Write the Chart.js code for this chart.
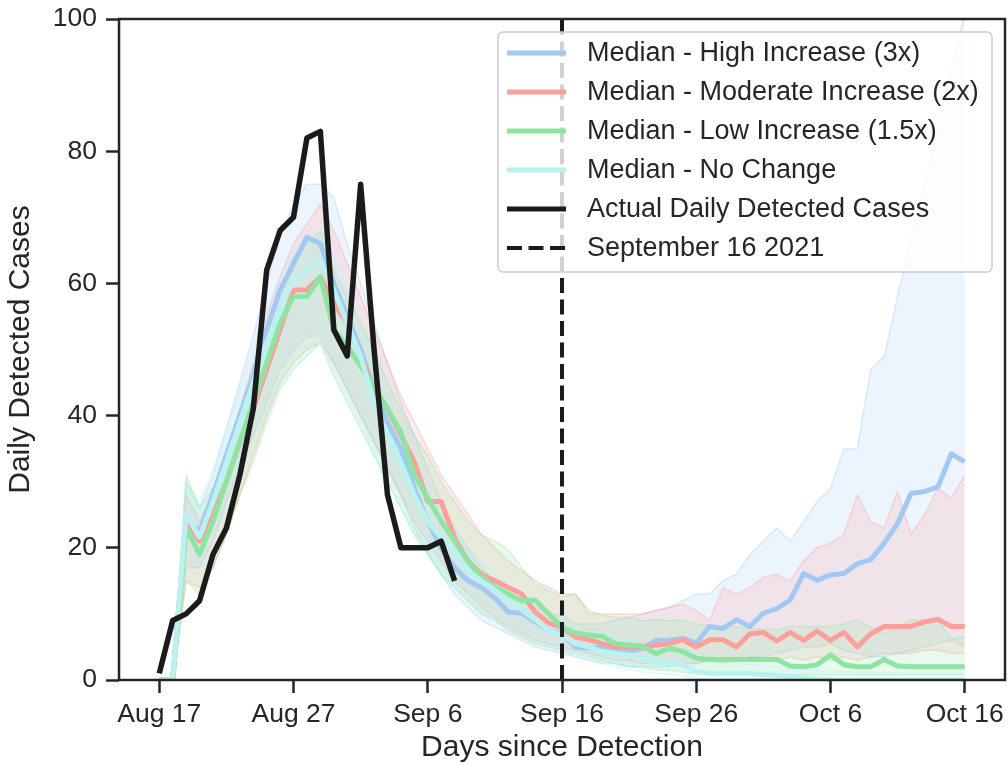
<!DOCTYPE html>
<html>
<head>
<meta charset="utf-8">
<script src="https://cdn.jsdelivr.net/npm/chart.js@4/dist/chart.umd.min.js"></script>
<style>
  html, body { margin: 0; padding: 0; background: #fff; }
  canvas { display: block; }
</style>
</head>
<body>
<canvas id="chart" width="1008" height="766"></canvas>
<script>
// days since Aug 17
const days = [0, 1, 2, 3, 4, 5, 6, 7, 8, 9, 10, 11, 12, 13, 14, 15, 16, 17, 18, 19, 20,
  21, 22, 23, 24, 25, 26, 27, 28, 29, 30, 31, 32, 33, 34, 35, 36, 37, 38, 39, 40,
  41, 42, 43, 44, 45, 46, 47, 48, 49, 50, 51, 52, 53, 54, 55, 56, 57, 58, 59, 60]
const tickDays = [0, 10, 20, 30, 40, 50, 60]
const tickLabels = ['Aug 17', 'Aug 27', 'Sep 6', 'Sep 16', 'Sep 26', 'Oct 6', 'Oct 16']
const cutoffDay = 30
const yMin = 0
const yMax = 100

const actualCases = [1, 9, 10, 12, 19, 23, 31, 41, 62, 68, 70, 82, 83, 53, 49, 75, 50, 28, 20, 20, 20, 21, 15]

const highMedian = [0, 0, 24, 22.5, 28, 34, 40, 46, 53, 59, 63, 67, 66, 60, 55, 50, 44, 39, 35, 29, 24, 20,
  17, 15, 14, 12.4, 10.3, 10.1, 8.8, 7.5, 7, 5, 4.8, 5, 4.8, 4.3, 4.8, 6, 6, 6.3, 5.6,
  8.1, 7.8, 9.1, 8.1, 10.1, 10.8, 12.1, 16.1, 15.1, 15.9, 16.1, 17.6, 18.2, 20.7, 23.7, 28.2, 28.5, 29.2, 34.2, 33]
const highLow = [0, 0, 17, 17, 21, 27, 32, 37, 42, 47, 50, 52, 52, 48, 44, 40, 36, 32, 28, 23, 19, 16,
  13, 11, 9, 8, 7, 6, 5, 4.5, 4, 3.5, 3, 2.5, 2.5, 2, 2, 2, 2, 2.5, 2.5,
  3, 3, 3, 3.5, 3.5, 4, 4.5, 5, 5, 5.5, 4.5, 4, 3.5, 3.5, 4, 4.5, 5, 5.5, 6, 5]
const highHigh = [0, 0, 30, 26, 31, 38, 45, 52, 60, 67, 72, 75, 75, 73, 66, 60, 54, 48, 42, 37, 32, 27,
  23, 20, 17, 15, 13, 12, 11, 10, 10, 8.5, 8.5, 8.5, 9, 9.5, 10, 10.5, 11, 12, 13,
  13, 15, 16, 19, 21, 23, 21, 24, 27, 29, 35, 35, 47, 49, 58, 67, 75, 84, 92, 101]

const moderateMedian = [0, 0, 24, 21, 25, 30, 36, 41, 47, 53, 59, 59, 61, 57, 54, 49, 44, 41, 37, 33, 27, 27,
  21.5, 18, 16, 15, 14, 13, 10.3, 8.6, 8, 6.5, 6.1, 5.5, 5, 5, 5, 5.3, 5.5, 6.1, 5,
  6.1, 6.1, 5, 7, 7.2, 5.9, 7.2, 6, 7.4, 6, 7.2, 5, 7, 8.1, 8.1, 8.1, 8.8, 9.2, 8.1, 8.1]
const moderateLow = [0, 0, 15, 14, 17, 22, 28, 34, 40, 45, 48, 50, 51, 48, 44, 40, 36, 32, 28, 24, 21, 18,
  15, 13, 11, 9.5, 8, 7, 6, 5.5, 5, 4.5, 4, 3.5, 3, 3, 2.5, 2.5, 2.5, 2.5, 2.5,
  3, 2.5, 3, 3.5, 3, 3, 3.5, 3, 3.5, 3, 3.5, 3, 3.5, 4, 4, 4, 4.5, 4.5, 4, 4]
const moderateHigh = [0, 0, 28, 24, 28, 34, 41, 48, 55, 61, 66, 69, 72, 68, 63, 58, 53, 48, 43, 39, 35, 31,
  28, 25, 22, 20, 18, 16.5, 15, 14, 13, 13, 10, 10, 10, 10, 10, 10.5, 11, 11.5, 10.5,
  9, 14, 13, 14, 15.5, 16, 15, 18, 20, 20.7, 22, 28, 24, 23, 28.5, 22, 25, 29, 27.5, 31]

const lowMedian = [0, 0, 23, 19, 24, 30, 36, 42, 48, 54, 58, 58, 61, 53, 50.5, 47.5, 44.5, 41, 37.5, 31, 27.5, 24,
  21, 18, 15.6, 14, 13, 12, 12.1, 10, 8, 7.1, 6.8, 6.6, 5.5, 5.3, 5.1, 4, 4.8, 4.3, 3.3,
  3.1, 3.1, 3.1, 3.1, 3.1, 3.1, 2.1, 2, 2.3, 3.8, 2.3, 2, 2, 3.1, 2.1, 2, 2, 2, 2, 2]
const lowLow = [0, 0, 15, 13, 17, 22, 28, 33, 39, 44, 47, 49, 51, 46, 42, 38, 34, 30, 26, 22, 19, 16,
  14, 12, 10, 9, 7.5, 6.5, 5.5, 5, 4.5, 4, 3.5, 3, 2.5, 2, 2, 1.5, 1.5, 1.2, 1,
  1, 1, 1, 1, 0.8, 0.8, 0.8, 0.8, 0.8, 0.8, 0.8, 0.8, 0.8, 0.8, 0.8, 0.8, 0.8, 0.8, 0.8, 0.8]
const lowHigh = [0, 0, 31, 26, 29, 35, 41, 47, 53, 59, 64, 66, 68, 62, 58, 54, 50, 45, 41, 37, 34, 30,
  27, 24, 22, 21, 19.7, 17, 14.5, 13.5, 12.6, 13, 10.5, 9.8, 9.5, 9.5, 9, 9.1, 9, 9.1, 8.5,
  8.3, 8.1, 8, 7.8, 7.7, 7.6, 8.1, 8.1, 8.1, 8.1, 8.5, 9.1, 8, 7, 8, 9.1, 9, 9.1, 6.2, 6.7]

const noChangeMedian = [0, 0, 25, 21.6, 27, 33, 39, 45, 51, 56, 60.5, 62, 63.5, 59, 54, 49, 42, 37, 33, 28, 24, 21.5,
  19.4, 16.5, 15, 13.6, 12.1, 10.6, 9.1, 7.5, 6.8, 5.5, 5, 4.3, 4, 3.8, 3.3, 2.8, 2.5, 2.3, 1.3,
  1, 1, 1, 1, 0.8, 0.7, 0.5, 0.3, 0.2, 0, 0, 0, 0, 0, 0, 0, 0, 0, 0, 0]
const noChangeLow = [0, 0, 19, 17, 21, 26, 31, 36, 41, 45, 48, 50, 51, 47, 43, 39, 34, 30, 26, 22, 19, 16,
  14, 12, 10, 9, 8, 7, 6, 5, 4.5, 3.5, 3, 2.5, 2, 1.5, 1.2, 1, 0.8, 0.5, 0.3,
  0, 0, 0, 0, 0, 0, 0, 0, 0, 0, 0, 0, 0, 0, 0, 0, 0, 0, 0, 0]
const noChangeHigh = [0, 0, 30, 27, 32, 38, 44, 50, 56, 61, 65, 67, 68, 64, 59, 54, 48, 42, 38, 33, 29, 26,
  23, 20, 18, 16, 14.5, 13, 11.5, 10, 9.5, 8, 7.5, 7, 6.5, 6, 5.5, 5, 4.5, 4, 3.5,
  3, 2.8, 2.6, 2.4, 2.2, 2, 1.8, 1.6, 1.5, 1.4, 1.3, 1.2, 1.2, 1.1, 1.1, 1, 1, 1, 1, 1]

const scenarios = [
  { label: 'Median - High Increase (3x)', rgb: '161,201,244', med: highMedian, lo: highLow, hi: highHigh },
  { label: 'Median - Moderate Increase (2x)', rgb: '255,159,155', med: moderateMedian, lo: moderateLow, hi: moderateHigh },
  { label: 'Median - Low Increase (1.5x)', rgb: '141,229,161', med: lowMedian, lo: lowLow, hi: lowHigh },
  { label: 'Median - No Change', rgb: '185,242,240', med: noChangeMedian, lo: noChangeLow, hi: noChangeHigh },
]

const ink = '#262626'
const black = '#1b1b1b'
const fontFamily = "'Liberation Sans', Arial, sans-serif"

const datasets = []
scenarios.forEach((s, i) => {
  datasets.push({
    data: s.hi,
    borderColor: `rgba(${s.rgb},0.35)`,
    backgroundColor: `rgba(${s.rgb},0.2)`,
    borderWidth: 1.5,
    fill: '+1',
    order: 30 - i,
    legendSkip: true,
  })
  datasets.push({
    data: s.lo,
    borderColor: `rgba(${s.rgb},0.35)`,
    borderWidth: 1.5,
    fill: false,
    order: 30 - i,
    legendSkip: true,
  })
})
scenarios.forEach((s, i) => {
  datasets.push({
    label: s.label,
    data: s.med,
    borderColor: `rgb(${s.rgb})`,
    borderWidth: 5,
    fill: false,
    order: 10 - i,
  })
})
datasets.push({
  label: 'Actual Daily Detected Cases',
  data: actualCases,
  borderColor: black,
  borderWidth: 5.5,
  fill: false,
  order: 2,
})
datasets.push({
  label: 'September 16 2021',
  data: [{ x: cutoffDay, y: yMin }, { x: cutoffDay, y: yMax }],
  borderColor: black,
  borderWidth: 4,
  borderDash: [15, 6.5],
  fill: false,
  order: 1,
})

const framePlugin = {
  id: 'frame',
  afterDatasetsDraw(chart) {
    const { ctx, chartArea: a } = chart
    ctx.save()
    ctx.strokeStyle = ink
    ctx.lineWidth = 2.5
    ctx.strokeRect(a.left, a.top, a.right - a.left, a.bottom - a.top)
    ctx.restore()
  },
}

const boxLegend = {
  id: 'boxLegend',
  afterDraw(chart) {
    const { ctx, chartArea: a } = chart
    const items = chart.data.datasets.filter(d => !d.legendSkip)
    const w = 494
    const h = 240
    const x0 = a.right - 13 - w
    const y0 = a.top + 13
    ctx.save()
    ctx.beginPath()
    ctx.roundRect(x0, y0, w, h, 5)
    ctx.fillStyle = 'rgba(255,255,255,0.8)'
    ctx.fill()
    ctx.strokeStyle = '#cccccc'
    ctx.lineWidth = 1.5
    ctx.stroke()
    ctx.font = `27px ${fontFamily}`
    ctx.textBaseline = 'middle'
    ctx.textAlign = 'left'
    items.forEach((d, i) => {
      const cy = y0 + 21 + i * 39
      ctx.beginPath()
      ctx.moveTo(x0 + 9, cy)
      ctx.lineTo(x0 + 68, cy)
      ctx.strokeStyle = d.borderColor
      ctx.lineWidth = d.borderDash ? 4 : 5
      ctx.setLineDash(d.borderDash || [])
      ctx.lineCap = 'butt'
      ctx.stroke()
      ctx.setLineDash([])
      ctx.fillStyle = ink
      ctx.fillText(d.label, x0 + 89, cy + 1)
    })
    ctx.restore()
  },
}

new Chart(document.getElementById('chart').getContext('2d'), {
  type: 'line',
  data: { labels: days, datasets },
  options: {
    responsive: false,
    animation: false,
    devicePixelRatio: 1,
    layout: { padding: { top: 19, right: 3, left: 0, bottom: 0 } },
    elements: {
      point: { radius: 0, hoverRadius: 0 },
      line: { tension: 0, borderJoinStyle: 'round', borderCapStyle: 'butt' },
    },
    datasets: { line: { clip: 0 } },
    plugins: {
      legend: { display: false },
      tooltip: { enabled: false },
    },
    scales: {
      x: {
        type: 'linear',
        min: -3,
        max: 63,
        afterBuildTicks: (scale) => { scale.ticks = tickDays.map(v => ({ value: v })) },
        afterFit: (scale) => {
          scale.height = 86
          scale.paddingLeft = 0
          scale.paddingRight = 0
        },
        ticks: {
          callback: (v) => tickLabels[tickDays.indexOf(v)],
          color: ink,
          font: { family: fontFamily, size: 26.5 },
          padding: 6,
          maxRotation: 0,
          autoSkip: false,
        },
        grid: { drawOnChartArea: false, tickLength: 13, tickWidth: 2.5, tickColor: ink },
        border: { display: false },
        title: {
          display: true,
          text: 'Days since Detection',
          color: ink,
          font: { family: fontFamily, size: 30, lineHeight: 1 },
          padding: { top: 0, bottom: 3 },
        },
      },
      y: {
        min: yMin,
        max: yMax,
        afterFit: (scale) => {
          scale.width = 119
          scale.paddingTop = 0
          scale.paddingBottom = 0
        },
        ticks: {
          stepSize: 20,
          color: ink,
          font: { family: fontFamily, size: 26.5 },
          padding: 9,
        },
        grid: { drawOnChartArea: false, tickLength: 13, tickWidth: 2.5, tickColor: ink },
        border: { display: false },
        title: {
          display: true,
          text: 'Daily Detected Cases',
          color: ink,
          font: { family: fontFamily, size: 30, lineHeight: 1 },
          padding: { top: 6, bottom: 0 },
        },
      },
    },
  },
  plugins: [framePlugin, boxLegend],
})
</script>
</body>
</html>
